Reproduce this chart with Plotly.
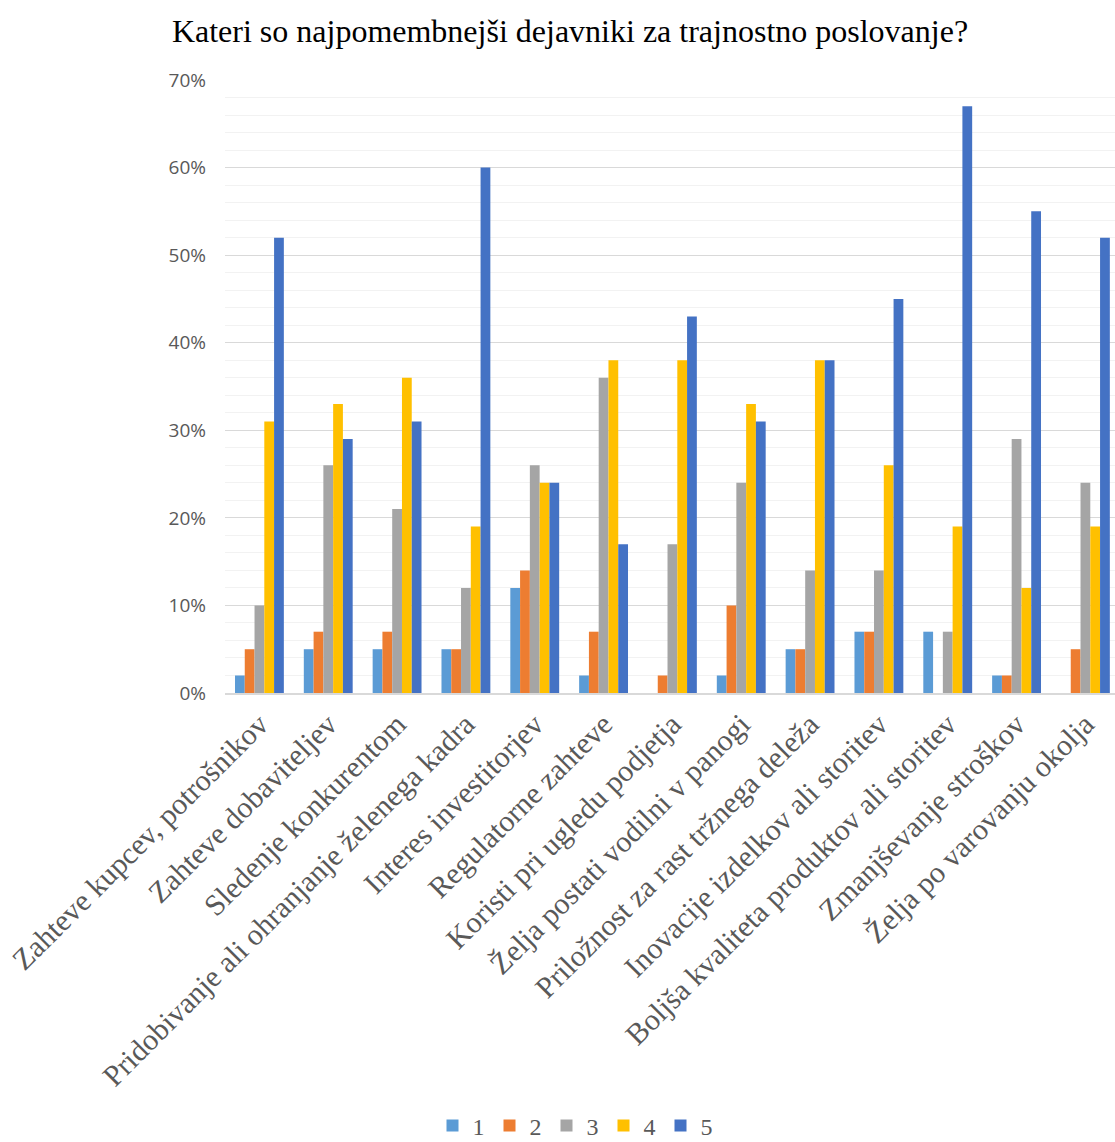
import plotly.graph_objects as go

# Survey: importance of factors for sustainable business (rating 1-5 shares)
categories = [
    "Zahteve kupcev, potrošnikov",
    "Zahteve dobaviteljev",
    "Sledenje konkurentom",
    "Pridobivanje ali ohranjanje želenega kadra",
    "Interes investitorjev",
    "Regulatorne zahteve",
    "Koristi pri ugledu podjetja",
    "Želja postati vodilni v panogi",
    "Priložnost za rast tržnega deleža",
    "Inovacije izdelkov ali storitev",
    "Boljša kvaliteta produktov ali storitev",
    "Zmanjševanje stroškov",
    "Želja po varovanju okolja",
]

rating_1 = [2, 5, 5, 5, 12, 2, 0, 2, 5, 7, 7, 2, 0]
rating_2 = [5, 7, 7, 5, 14, 7, 2, 10, 5, 7, 0, 2, 5]
rating_3 = [10, 26, 21, 12, 26, 36, 17, 24, 14, 14, 7, 29, 24]
rating_4 = [31, 33, 36, 19, 24, 38, 38, 33, 38, 26, 19, 12, 19]
rating_5 = [52, 29, 31, 60, 24, 17, 43, 31, 38, 45, 67, 55, 52]

series_names = ["1", "2", "3", "4", "5"]
series_values = [rating_1, rating_2, rating_3, rating_4, rating_5]
series_colors = ["#5B9BD5", "#ED7D31", "#A5A5A5", "#FFC000", "#4472C4"]

fig = go.Figure()
for name, vals, color in zip(series_names, series_values, series_colors):
    fig.add_trace(go.Bar(
        name=name,
        x=categories,
        y=[v / 100 for v in vals],
        marker=dict(color=color, line=dict(width=0)),
    ))

W, H = 1115, 1142
left, right_px, top, bottom_px = 225, 1115, 80, 693

fig.update_layout(
    width=W, height=H,
    margin=dict(l=left, r=W - right_px, t=top, b=H - bottom_px, autoexpand=False),
    paper_bgcolor="white", plot_bgcolor="white",
    barmode="group", bargap=0.29, bargroupgap=0,
    title=dict(
        text="Kateri so najpomembnejši dejavniki za trajnostno poslovanje?",
        font=dict(family="Liberation Serif", size=32, color="black"),
        xref="container", x=570 / W, xanchor="center",
        yref="container", y=1 - 31 / H, yanchor="middle",
    ),
    legend=dict(
        orientation="h",
        xref="container", x=575 / W, xanchor="center",
        yref="container", y=1 - 1126 / H, yanchor="middle",
        font=dict(family="Liberation Serif", size=24, color="#595959"),
        itemwidth=30, tracegroupgap=0,
    ),
    showlegend=True,
)

fig.update_xaxes(
    type="category",
    range=[-0.5, 12.43],
    tickangle=-45,
    tickfont=dict(family="Liberation Serif", size=30, color="#595959"),
    showgrid=False, ticks="", showline=True, linecolor="#D9D9D9", linewidth=1.5,
    fixedrange=True,
)

fig.update_yaxes(
    range=[0, 0.70],
    dtick=0.10, tickformat=".0%",
    tickfont=dict(family="Open Sans", size=19, color="#595959"),
    showgrid=True, gridcolor="#D9D9D9", gridwidth=1.2,
    minor=dict(dtick=0.02, showgrid=True, gridcolor="#F2F2F2", gridwidth=1.2),
    zeroline=False, showline=False, ticks="",
    ticklabelstandoff=18,
    fixedrange=True,
)

fig.write_html("out.html")
